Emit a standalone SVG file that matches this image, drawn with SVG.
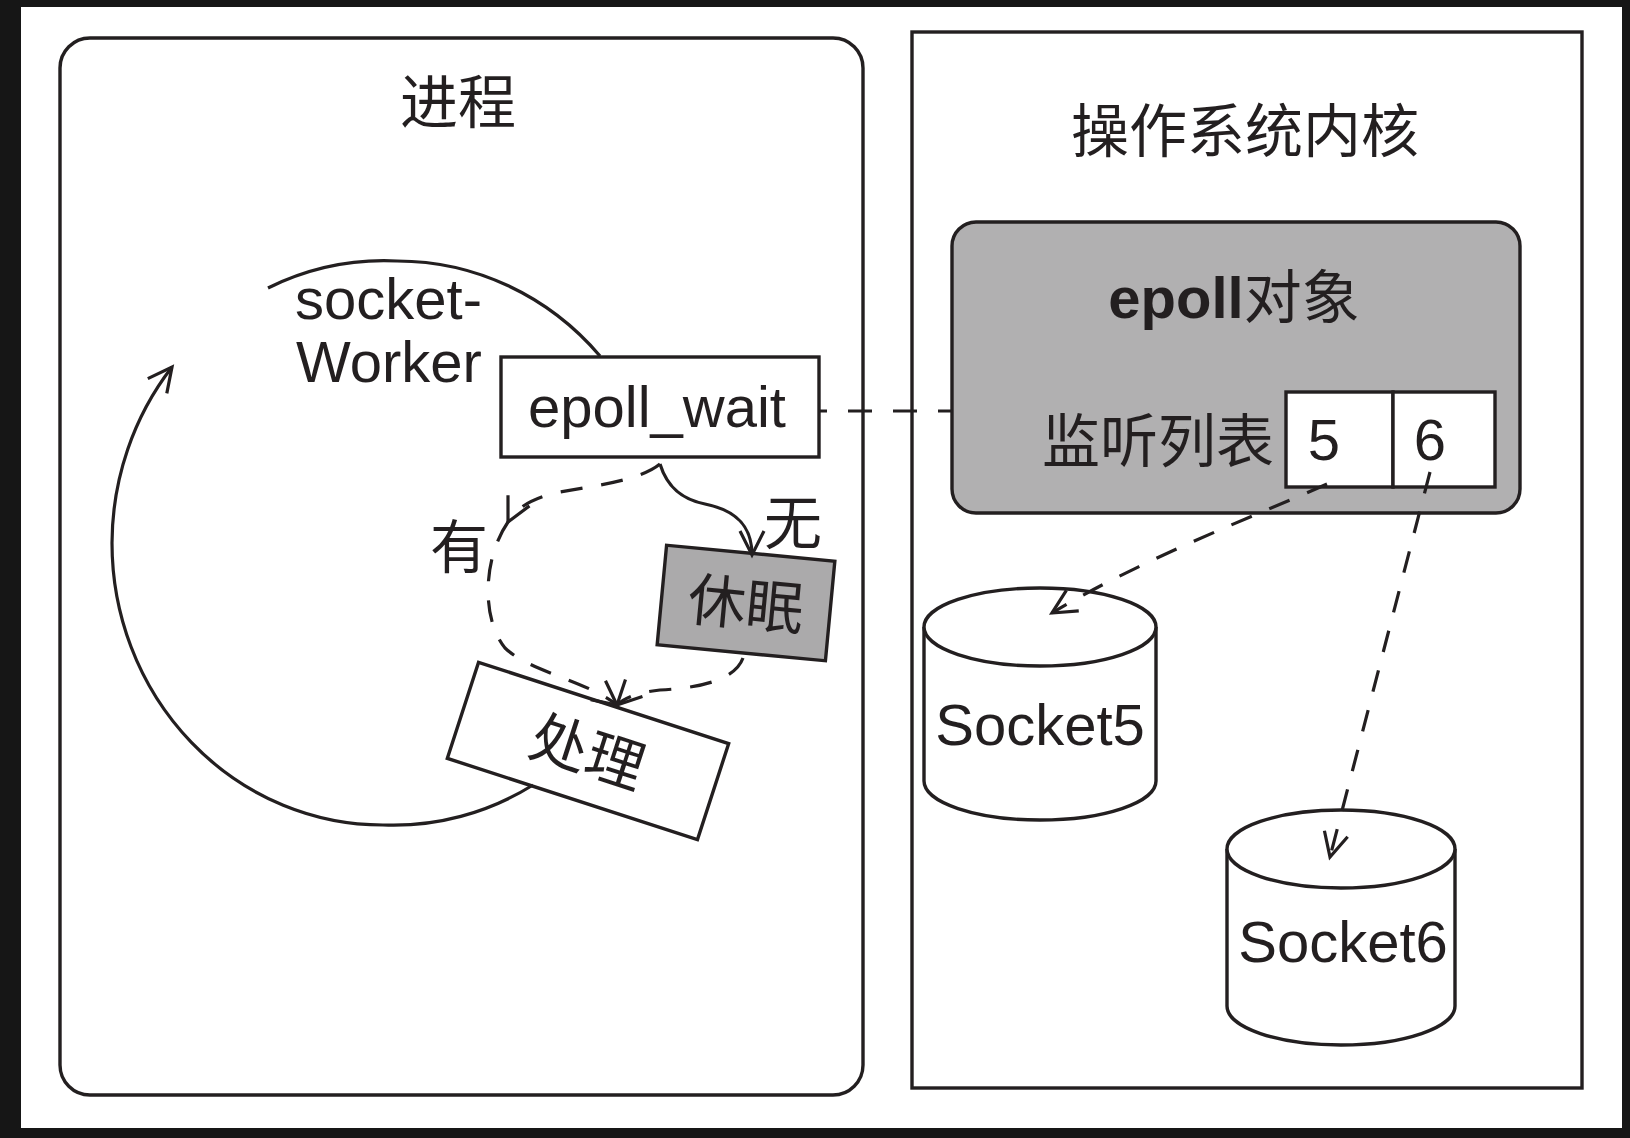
<svg xmlns="http://www.w3.org/2000/svg" width="1630" height="1138" viewBox="0 0 1630 1138">
  <style>
    .ln { fill: none; stroke: #231f20; stroke-width: 3.2; }
    .box { fill: #ffffff; stroke: #231f20; stroke-width: 3.4; }
    .grey { fill: #b1b0b1; stroke: #231f20; stroke-width: 3.4; }
    .dash { stroke-dasharray: 22 19; }
    .t { font-family: "Liberation Sans", "Noto Sans CJK SC", sans-serif; font-size: 58px; fill: #231f20; }
    .mid { text-anchor: middle; }
  </style>
  <defs>
    <marker id="arrow" markerUnits="userSpaceOnUse" markerWidth="40" markerHeight="40" viewBox="-30 -20 40 40" refX="0" refY="0" orient="auto">
      <path d="M -24,-12 L 0,0 L -24,12" fill="none" stroke="#231f20" stroke-width="3.2" stroke-dasharray="none"/>
    </marker>
  </defs>

  <!-- page -->
  <rect x="0" y="0" width="1630" height="1138" fill="#161616"/>
  <rect x="21" y="7" width="1601" height="1121" fill="#ffffff"/>

  <!-- process frame -->
  <g id="process">
    <rect class="box" x="60" y="38" width="803" height="1057" rx="30"/>
    <text class="t mid" x="458" y="123">进程</text>
  </g>

  <!-- kernel frame -->
  <g id="kernel">
    <rect class="box" x="912" y="32" width="670" height="1056"/>
    <text class="t mid" x="1245" y="152">操作系统内核</text>
  </g>

  <!-- worker loop label -->
  <g id="worker-label">
    <text class="t" x="295" y="319">socket-</text>
    <text class="t" x="296" y="382">Worker</text>
  </g>

  <g id="label-you">
    <text class="t mid" x="459" y="568">有</text>
  </g>
  <g id="label-wu">
    <text class="t mid" x="793" y="544">无</text>
  </g>

  <!-- epoll_wait call -->
  <g id="epoll-wait">
    <rect class="box" x="501" y="357" width="318" height="100"/>
    <text class="t mid" x="657" y="427">epoll_wait</text>
  </g>

  <!-- sleep -->
  <g id="sleep" transform="rotate(5.4 746 603)">
    <rect class="grey" x="661.5" y="553" width="169" height="100" style="fill:#abaaab"/>
    <text class="t mid" x="746" y="625">休眠</text>
  </g>

  <!-- handle -->
  <g id="handle" transform="rotate(18 588 751)">
    <rect class="box" x="456.5" y="700.5" width="263" height="101"/>
    <text class="t mid" x="588" y="773">处理</text>
  </g>

  <!-- epoll object with interest list -->
  <g id="epoll-object">
    <rect class="grey" x="952" y="222" width="568" height="291" rx="24"/>
    <text class="t mid" x="1234" y="318"><tspan font-weight="bold">epoll</tspan>对象</text>
    <text class="t" x="1042" y="462">监听列表</text>
  </g>
  <g id="list-5">
    <rect class="box" x="1286" y="392" width="107" height="95"/>
    <text class="t mid" x="1324" y="460">5</text>
  </g>
  <g id="list-6">
    <rect class="box" x="1393" y="392" width="102" height="95"/>
    <text class="t mid" x="1430" y="460">6</text>
  </g>

  <!-- sockets -->
  <g id="socket5">
    <path class="box" d="M 924,627 L 924,781 A 116 39 0 0 0 1156,781 L 1156,627"/>
    <ellipse class="box" cx="1040" cy="627" rx="116" ry="39"/>
    <text class="t mid" x="1040" y="745">Socket5</text>
  </g>
  <g id="socket6">
    <path class="box" d="M 1227,849 L 1227,1006 A 114 39 0 0 0 1455,1006 L 1455,849"/>
    <ellipse class="box" cx="1341" cy="849" rx="114" ry="39"/>
    <text class="t mid" x="1343" y="962">Socket6</text>
  </g>

  <!-- connectors -->
  <g id="connectors">
    <!-- worker loop -->
    <path class="ln" d="M 268,288 A 271 282 0 0 1 397,261 A 271 282 0 0 1 600,356"/>
    <path class="ln" d="M 533,785 A 271 282 0 0 1 383,825 A 271 282 0 0 1 112,543 A 271 282 0 0 1 172,367" marker-end="url(#arrow)"/>
    <!-- epoll_wait to epoll object -->
    <path class="ln" d="M 819,411 L 952,411" stroke-dashoffset="16" stroke-dasharray="24 21"/>
    <!-- no events: sleep -->
    <path class="ln" d="M 660,464 C 668,490 685,500 705,504 C 735,510 752,525 752,555" marker-end="url(#arrow)"/>
    <!-- events ready -->
    <path class="ln dash" d="M 660,464 C 640,480 600,485 560,492 C 535,497 515,508 508,522" marker-end="url(#arrow)"/>
    <path class="ln dash" d="M 508,522 C 482,560 482,620 505,648 C 530,672 585,680 617,705" marker-end="url(#arrow)"/>
    <!-- sleep to handle -->
    <path class="ln dash" d="M 743,658 C 735,680 700,688 660,690 C 640,692 625,697 617,705" marker-end="url(#arrow)"/>
    <!-- list entries to sockets -->
    <path class="ln dash" d="M 1327,484 C 1250,518 1140,560 1052,613" marker-end="url(#arrow)"/>
    <path class="ln dash" d="M 1430,472 L 1330,857" marker-end="url(#arrow)"/>
  </g>
</svg>
